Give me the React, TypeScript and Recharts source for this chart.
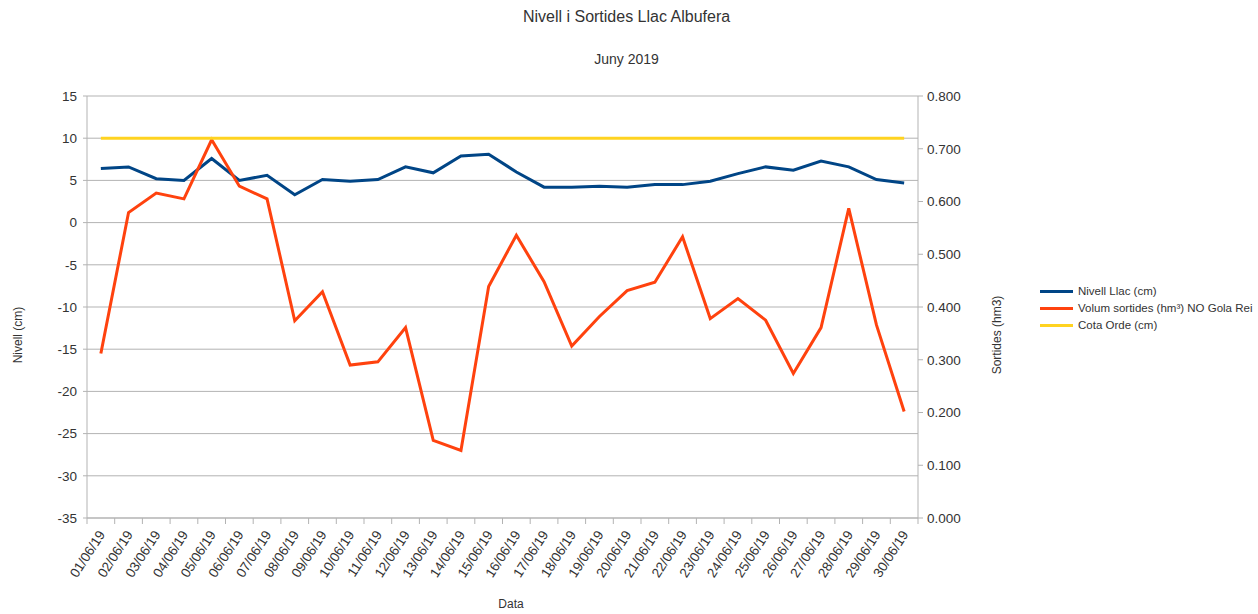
import { ComposedChart, Line, XAxis, YAxis, CartesianGrid } from 'recharts';

const dates = [
  '01/06/19', '02/06/19', '03/06/19', '04/06/19', '05/06/19', '06/06/19', '07/06/19', '08/06/19',
  '09/06/19', '10/06/19', '11/06/19', '12/06/19', '13/06/19', '14/06/19', '15/06/19', '16/06/19',
  '17/06/19', '18/06/19', '19/06/19', '20/06/19', '21/06/19', '22/06/19', '23/06/19', '24/06/19',
  '25/06/19', '26/06/19', '27/06/19', '28/06/19', '29/06/19', '30/06/19',
];

// Nivell Llac (cm) - left axis
const nivell = [
  6.4, 6.6, 5.2, 5.0, 7.6, 5.0, 5.6, 3.3, 5.1, 4.9, 5.1, 6.6, 5.9, 7.9, 8.1,
  6.0, 4.2, 4.2, 4.3, 4.2, 4.5, 4.5, 4.9, 5.8, 6.6, 6.2, 7.3, 6.6, 5.1, 4.7,
];

// Volum sortides (hm3) - right axis
const volum = [
  0.312, 0.579, 0.616, 0.605, 0.717, 0.629, 0.605, 0.374, 0.429, 0.290, 0.296, 0.361, 0.147, 0.128, 0.439,
  0.536, 0.448, 0.326, 0.382, 0.431, 0.447, 0.533, 0.378, 0.416, 0.375, 0.274, 0.361, 0.587, 0.366, 0.202,
];

// Cota Orde (cm)
const cota = [
  10, 10, 10, 10, 10, 10, 10, 10, 10, 10, 10, 10, 10, 10, 10,
  10, 10, 10, 10, 10, 10, 10, 10, 10, 10, 10, 10, 10, 10, 10,
];

const leftTicks = [-35, -30, -25, -20, -15, -10, -5, 0, 5, 10, 15];
const rightTicks = [0, 0.1, 0.2, 0.3, 0.4, 0.5, 0.6, 0.7, 0.8];

const data = dates.map((d, i) => ({ date: d, nivell: nivell[i], volum: volum[i], cota: cota[i] }));

const W = 1258;
const H = 614;
const PLOT_LEFT = 87;
const PLOT_RIGHT = 918;
const PLOT_TOP = 96;
const PLOT_BOTTOM = 518;
const BAND = (PLOT_RIGHT - PLOT_LEFT) / dates.length;
const GRAY = '#b3b3b3';
const TEXT = '#333';

const DateTick = (props: any) => {
  const { x, y, payload, index } = props;
  const axisY = PLOT_BOTTOM;
  const ty = y + 6;
  return (
    <g>
      <line x1={x - BAND / 2} y1={axisY} x2={x - BAND / 2} y2={axisY + 6} stroke={GRAY} />
      {index === dates.length - 1 && (
        <line x1={x + BAND / 2} y1={axisY} x2={x + BAND / 2} y2={axisY + 6} stroke={GRAY} />
      )}
      <text
        x={x + 1}
        y={ty}
        textAnchor="end"
        fontSize={13.5}
        fill={TEXT}
        transform={`rotate(-57 ${x + 1} ${ty})`}
        dominantBaseline="central"
      >
        {payload.value}
      </text>
    </g>
  );
};

const legendItems = [
  { label: 'Nivell Llac (cm)', color: '#004586' },
  { label: 'Volum sortides (hm³) NO Gola Rei', color: '#ff420e' },
  { label: 'Cota Orde (cm)', color: '#ffd320' },
];

export default function App() {
  return (
    <div
      style={{
        position: 'absolute',
        left: 0,
        top: 0,
        width: W,
        height: H,
        background: '#fff',
        fontFamily: '"Liberation Sans", Arial, sans-serif',
      }}
    >
      <div style={{ position: 'absolute', left: 0, width: 1253, top: 8, textAlign: 'center', fontSize: 16, color: TEXT }}>
        Nivell i Sortides Llac Albufera
      </div>
      <div style={{ position: 'absolute', left: 0, width: 1253, top: 51, textAlign: 'center', fontSize: 14, color: TEXT }}>
        Juny 2019
      </div>
      <div style={{ position: 'absolute', left: 1040, top: 283, fontSize: 11.5, color: TEXT, lineHeight: '17px' }}>
        {legendItems.map((it) => (
          <div key={it.label} style={{ display: 'flex', alignItems: 'center', whiteSpace: 'nowrap' }}>
            <span style={{ display: 'inline-block', width: 33, height: 3, background: it.color, marginRight: 5 }} />
            <span>{it.label}</span>
          </div>
        ))}
      </div>
      <ComposedChart
        width={W}
        height={H}
        data={data}
        margin={{ top: PLOT_TOP, right: W - PLOT_RIGHT - 80, bottom: H - PLOT_BOTTOM - 80, left: PLOT_LEFT - 80 }}
      >
        <CartesianGrid vertical={false} stroke={GRAY} yAxisId="left" />
        <XAxis
          dataKey="date"
          scale="band"
          height={80}
          interval={0}
          tick={<DateTick />}
          tickLine={false}
          tickSize={6}
          tickMargin={2}
          stroke={GRAY}
          label={{
            content: () => (
              <text x={511} y={604} textAnchor="middle" dominantBaseline="central" fontSize={12} fill={TEXT}>
                Data
              </text>
            ),
          }}
        />
        <YAxis
          yAxisId="left"
          width={80}
          domain={[-35, 15]}
          ticks={leftTicks}
          interval={0}
          tickSize={4}
          tickMargin={6}
          stroke={GRAY}
          tick={{ fill: TEXT, fontSize: 13.5 }}
          label={{
            content: () => (
              <text x={18} y={335} textAnchor="middle" dominantBaseline="central" fontSize={12} fill={TEXT} transform="rotate(-90 18 335)">
                Nivell (cm)
              </text>
            ),
          }}
        />
        <YAxis
          yAxisId="right"
          orientation="right"
          width={80}
          domain={[0, 0.8]}
          ticks={rightTicks}
          interval={0}
          tickSize={5}
          tickMargin={4}
          stroke={GRAY}
          tick={{ fill: TEXT, fontSize: 13.5 }}
          tickFormatter={(v: number) => v.toFixed(3)}
          label={{
            content: () => (
              <text x={997} y={335} textAnchor="middle" dominantBaseline="central" fontSize={12} fill={TEXT} transform="rotate(-90 997 335)">
                Sortides (hm3)
              </text>
            ),
          }}
        />
        <Line yAxisId="left" type="linear" dataKey="nivell" name="Nivell Llac (cm)" stroke="#004586" strokeWidth={3} dot={false} isAnimationActive={false} />
        <Line yAxisId="right" type="linear" dataKey="volum" name="Volum sortides (hm³) NO Gola Rei" stroke="#ff420e" strokeWidth={3} dot={false} isAnimationActive={false} />
        <Line yAxisId="left" type="linear" dataKey="cota" name="Cota Orde (cm)" stroke="#ffd320" strokeWidth={3} dot={false} isAnimationActive={false} />
      </ComposedChart>
    </div>
  );
}
